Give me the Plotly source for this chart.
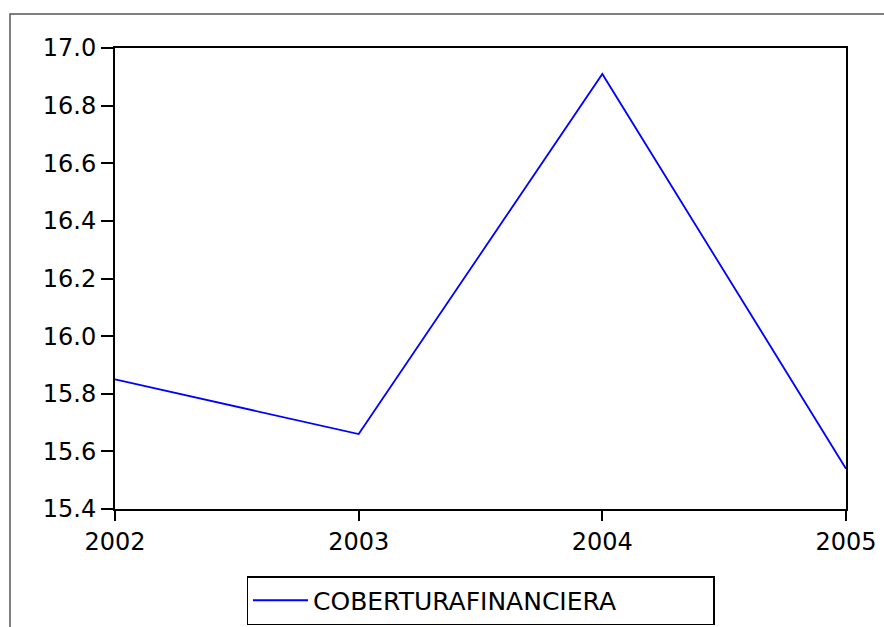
import plotly.graph_objects as go

years = [2002, 2003, 2004, 2005]
cobertura = [15.85, 15.66, 16.91, 15.54]
series_name = "COBERTURAFINANCIERA"
y_ticks = [15.4, 15.6, 15.8, 16.0, 16.2, 16.4, 16.6, 16.8, 17.0]

W, H = 884, 627
L, R, T, B = 115, 38, 48, 118
pw, ph = W - L - R, H - T - B

fig = go.Figure()
fig.add_trace(go.Scatter(
    x=years, y=cobertura, mode="lines", name=series_name,
    line=dict(color="#0000FF", width=1.8),
    showlegend=True,
))

font = dict(family="DejaVu Sans", size=24, color="black")

fig.update_layout(
    template="none",
    width=W, height=H,
    margin=dict(l=L, r=R, t=T, b=B, autoexpand=False),
    paper_bgcolor="white", plot_bgcolor="white",
    font=font,
    showlegend=True,
    xaxis=dict(
        range=[2002, 2005], tickvals=years, ticktext=[str(y) for y in years],
        showgrid=False, zeroline=False, automargin=False,
        showline=True, linecolor="black", linewidth=2, mirror=True,
        ticks="outside", ticklen=10, tickwidth=1.5, tickcolor="black",
        tickfont=font,
    ),
    yaxis=dict(
        range=[15.4, 17.0], tickvals=y_ticks, tickformat=".1f",
        showgrid=False, zeroline=False, automargin=False,
        showline=True, linecolor="black", linewidth=2, mirror=True,
        ticks="outside", ticklen=12, tickwidth=1.5, tickcolor="black",
        tickfont=font,
    ),
    legend=dict(
        orientation="h", x=0.5, xanchor="center",
        y=(T + ph - 576) / ph, yanchor="top",
        bordercolor="black", borderwidth=1.5, bgcolor="white",
        font=dict(family="DejaVu Sans", size=25, color="black"),
        entrywidth=395, entrywidthmode="pixels",
        itemwidth=55,
    ),
)

# outer frame (extends past right and bottom edges)
fig.add_shape(
    type="rect", xref="paper", yref="paper",
    x0=(10 - L) / pw, x1=(W + 10 - L) / pw,
    y0=(T + ph - (H + 10)) / ph, y1=(T + ph - 14) / ph,
    line=dict(color="#555555", width=1.5), fillcolor="rgba(0,0,0,0)",
    layer="below",
)

fig.write_html(
    "out.html",
    config={"displayModeBar": False},
    post_script="document.body.style.margin='0';document.body.style.overflow='hidden';",
)
